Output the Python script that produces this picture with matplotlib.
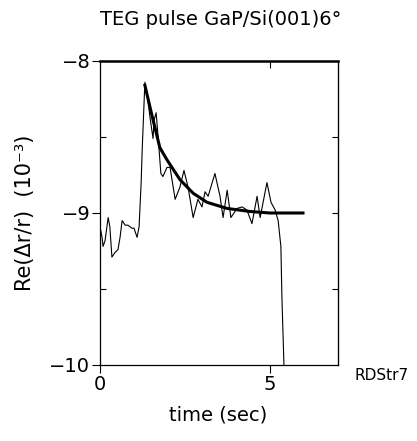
import matplotlib
matplotlib.use("Agg")
import matplotlib.pyplot as plt

# measured trace, time in sec, Re(dr/r) in 1e-3
t_raw = [0.00, 0.06, 0.09, 0.15, 0.24, 0.29, 0.35, 0.44, 0.53, 0.59, 0.65, 0.74,
         0.82, 0.94, 1.00, 1.09, 1.15, 1.21, 1.24, 1.32, 1.38, 1.47, 1.56, 1.59,
         1.65, 1.71, 1.79, 1.85, 1.97, 2.06, 2.21, 2.35, 2.47, 2.59, 2.74, 2.88,
         3.00, 3.09, 3.18, 3.38, 3.53, 3.62, 3.74, 3.85, 4.03, 4.18, 4.32, 4.47,
         4.62, 4.71, 4.91, 5.03, 5.15, 5.24, 5.32, 5.35, 5.41]
v_raw = [-9.09, -9.16, -9.22, -9.18, -9.03, -9.09, -9.29, -9.26, -9.24, -9.16, -9.05, -9.08,
         -9.08, -9.10, -9.10, -9.16, -9.09, -8.80, -8.59, -8.14, -8.21, -8.37, -8.51, -8.39,
         -8.34, -8.50, -8.74, -8.76, -8.70, -8.70, -8.91, -8.83, -8.72, -8.83, -9.03, -8.91,
         -8.96, -8.86, -8.89, -8.74, -8.89, -9.03, -8.85, -9.03, -8.97, -8.96, -8.98, -9.07,
         -8.89, -9.03, -8.80, -8.93, -8.98, -9.05, -9.22, -9.55, -10.00]

# decay fit
t_fit = [1.32, 1.53, 1.76, 1.97, 2.35, 2.74, 3.15, 3.74, 4.41, 5.00, 5.97]
v_fit = [-8.16, -8.36, -8.57, -8.65, -8.78, -8.87, -8.93, -8.97, -8.99, -9.00, -9.00]

xticks = [0, 5]
yticks = [-10, -9, -8]

fig = plt.figure(figsize=(4.17, 4.41), dpi=100)
ax = fig.add_axes([100 / 417, 1 - 365 / 441, 238 / 417, 304 / 441])

ax.plot(t_raw, v_raw, color="black", lw=0.8)
ax.plot(t_fit, v_fit, color="black", lw=2.2)

ax.set_xlim(0, 7)
ax.set_ylim(-10, -8)
ax.set_xticks(xticks)
ax.set_xticklabels([str(x) for x in xticks])
ax.set_yticks(yticks)
ax.set_yticklabels(["\u2212" + str(abs(y)) for y in yticks])
ax.set_yticks([-9.5, -8.5], minor=True)

ax.tick_params(axis="both", which="major", direction="out", length=6, width=0.8,
               labelsize=14, pad=1, top=False, right=False)
ax.tick_params(axis="y", which="minor", direction="in", length=4, width=0.8)
ax.tick_params(axis="x", which="minor", bottom=False)

sec_y = ax.secondary_yaxis("right")
sec_y.set_yticks([-9.5, -9, -8.5])
sec_y.tick_params(direction="in", length=4, width=0.8, labelright=False)
sec_x = ax.secondary_xaxis("top")
sec_x.set_xticks([5])
sec_x.tick_params(direction="in", length=5, width=0.8, labeltop=False)

for s in ax.spines.values():
    s.set_linewidth(0.9)
ax.spines["top"].set_linewidth(1.8)

ax.set_ylabel("Re(\u0394r/r)  (10\u207b\u00b3)", fontsize=15, labelpad=10)
fig.text(0.53, 0.955, "TEG pulse GaP/Si(001)6\u00b0", fontsize=14, ha="center", va="center")
fig.text(0.523, 0.058, "time (sec)", fontsize=14, ha="center", va="center")
fig.text(355 / 417, 1 - 375 / 441, "RDStr7", fontsize=11, ha="left", va="center")

fig.savefig("out.png", dpi=100)
